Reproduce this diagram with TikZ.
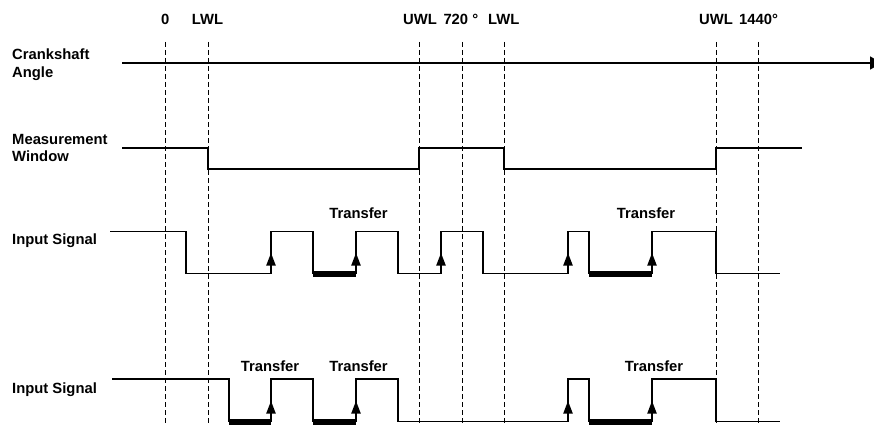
\documentclass[tikz,border=0pt]{standalone}
\usepackage{fontspec}
\setmainfont{Liberation Sans}
\usetikzlibrary{arrows.meta}
\begin{document}
\begin{tikzpicture}[x=1pt,y=-1pt,
  sig/.style={line width=1.5pt, line join=miter},
  thk/.style={line width=6pt},
  gridln/.style={line width=0.8pt, dash pattern=on 5pt off 3pt},
  lbl/.style={font=\fontsize{14.8}{17.3}\selectfont\bfseries, inner sep=0pt},
  uparr/.pic={\fill (-4.8,-8) -- (4.8,-8) -- (0,-20.5) -- cycle;}]
\useasboundingbox (0,0) rectangle (874,425);
\clip (0,0) rectangle (874,425);
% top labels
\node[lbl,anchor=base west] (t0) at (161,25) {0};
\node[lbl,anchor=base west] (tlwl1) at (191.7,25) {LWL};
\node[lbl,anchor=base west] (tuwl1) at (403,25) {UWL};
\node[lbl,anchor=base west] (t720) at (443.3,25) {720 °};
\node[lbl,anchor=base west] (tlwl2) at (488,25) {LWL};
\node[lbl,anchor=base west] (tuwl2) at (699,25) {UWL};
\node[lbl,anchor=base west] (t1440) at (739,25) {1440°};
% dashed verticals
\foreach \xx in {165,208,419,462,504,716,758}
  \draw[gridln] (\xx,42) -- (\xx,425);
% row labels
\node[lbl,anchor=base west] (l1a) at (12,60) {Crankshaft};
\node[lbl,anchor=base west] (l1b) at (12,77.5) {Angle};
\node[lbl,anchor=base west] (l2a) at (12,144) {Measurement};
\node[lbl,anchor=base west] (l2b) at (12,161.3) {Window};
\node[lbl,anchor=base west] (l3) at (12,244.3) {Input Signal};
\node[lbl,anchor=base west] (l4) at (12,393.3) {Input Signal};
% crankshaft axis
\draw[sig,-{Triangle[length=12pt,width=13pt]}] (122,63) -- (882,63);
% measurement window
\draw[sig] (122,148) -- (208,148) -- (208,169) -- (419,169) -- (419,148)
  -- (504,148) -- (504,169) -- (716,169) -- (716,148) -- (802,148);
% input signal 1
\draw[sig] (110,231.7) -- (186,231.7) -- (186,273.5) -- (271,273.5) -- (271,231.7)
  -- (313,231.7) -- (313,273.5) -- (356,273.5) -- (356,231.7) -- (398,231.7)
  -- (398,273.5) -- (441,273.5) -- (441,231.7) -- (483,231.7) -- (483,273.5)
  -- (568,273.5) -- (568,231.7) -- (589,231.7) -- (589,273.5) -- (652,273.5)
  -- (652,231.7) -- (716,231.7) -- (716,273.5) -- (780,273.5);
\draw[thk] (313,273.5) -- (356,273.5);
\draw[thk] (589,273.5) -- (652,273.5);
\foreach \xx in {271,356,441,568,652}
  \pic at (\xx,273.5) {uparr};
\node[lbl,anchor=base] (tr1) at (358.5,218.3) {Transfer};
\node[lbl,anchor=base] (tr2) at (646,218.3) {Transfer};
% input signal 2
\draw[sig] (112,379) -- (229,379) -- (229,421.5) -- (271,421.5) -- (271,379)
  -- (313,379) -- (313,421.5) -- (356,421.5) -- (356,379) -- (398,379)
  -- (398,421.5) -- (568,421.5) -- (568,379) -- (589,379) -- (589,421.5)
  -- (652,421.5) -- (652,379) -- (716,379) -- (716,421.5) -- (780,421.5);
\draw[thk] (229,421.5) -- (271,421.5);
\draw[thk] (313,421.5) -- (356,421.5);
\draw[thk] (589,421.5) -- (652,421.5);
\foreach \xx in {271,356,568,652}
  \pic at (\xx,421.5) {uparr};
\node[lbl,anchor=base] (tr3) at (270,371) {Transfer};
\node[lbl,anchor=base] (tr4) at (358.5,371) {Transfer};
\node[lbl,anchor=base] (tr5) at (654,371) {Transfer};
\end{tikzpicture}
\end{document}
